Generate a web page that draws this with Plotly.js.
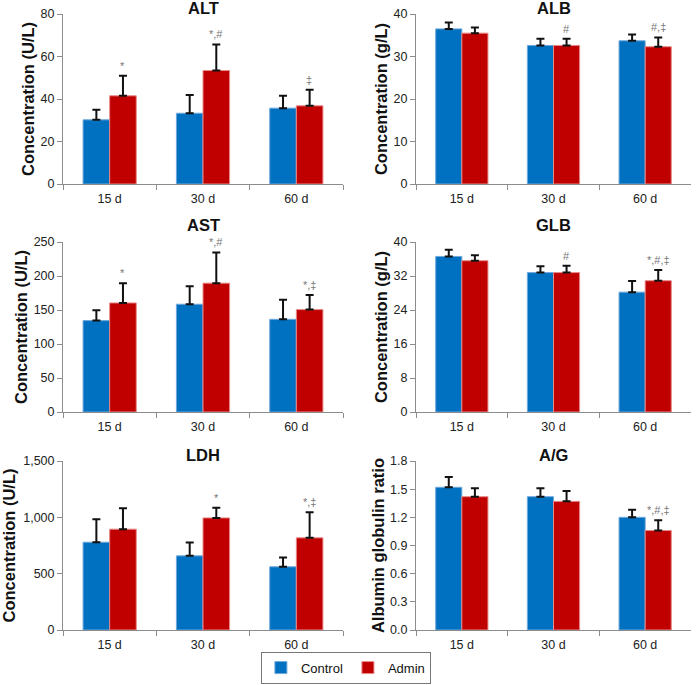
<!DOCTYPE html>
<html>
<head>
<meta charset="utf-8">
<script src="https://cdn.plot.ly/plotly-3.0.1.min.js"></script>
<style>html,body{margin:0;padding:0;background:#fff;}#chart{width:696px;height:685px;}</style>
</head>
<body>
<div id="chart"></div>
<script>
// ---- data ----
const categories = ['15 d', '30 d', '60 d'];
const seriesNames = ['Control', 'Admin'];

const altControl = [30.2, 33.3, 35.7];
const altControlSD = [4.7, 8.6, 5.8];
const altAdmin = [41.5, 53.4, 36.8];
const altAdminSD = [9.4, 12.3, 7.5];
const altSig = ['*', '*,#', '‡'];

const albControl = [36.5, 32.6, 33.7];
const albControlSD = [1.5, 1.6, 1.5];
const albAdmin = [35.5, 32.6, 32.3];
const albAdminSD = [1.3, 1.6, 2.2];
const albSig = ['', '#', '#,‡'];

const astControl = [134.4, 158.5, 136.3];
const astControlSD = [15.2, 26.5, 28.6];
const astAdmin = [160.4, 189.5, 150.6];
const astAdminSD = [29.1, 45.2, 21.6];
const astSig = ['*', '*,#', '*,‡'];

const glbControl = [36.6, 32.8, 28.2];
const glbControlSD = [1.6, 1.5, 2.6];
const glbAdmin = [35.6, 32.8, 30.9];
const glbAdminSD = [1.3, 1.6, 2.5];
const glbSig = ['', '#', '*,#,‡'];

const ldhControl = [779, 658, 561];
const ldhControlSD = [204, 119, 83];
const ldhAdmin = [895, 995, 818];
const ldhAdminSD = [186, 89, 227];
const ldhSig = ['', '*', '*,‡'];

const agControl = [1.52, 1.42, 1.20];
const agControlSD = [0.11, 0.09, 0.08];
const agAdmin = [1.42, 1.37, 1.06];
const agAdminSD = [0.09, 0.11, 0.11];
const agSig = ['', '', '*,#,‡'];

const panelTitles = ['ALT', 'ALB', 'AST', 'GLB', 'LDH', 'A/G'];
const yTitles = ['Concentration (U/L)', 'Concentration (g/L)', 'Concentration (U/L)', 'Concentration (g/L)', 'Concentration (U/L)', 'Albumin globulin ratio'];
const yMax = [80, 40, 250, 40, 1500, 1.8];
const yStep = [20, 10, 50, 8, 500, 0.3];

// ---- layout geometry ----
const W = 696, H = 685;
const FONT = 'Arial, "Liberation Sans", sans-serif';
const colX = [[63, 343], [416, 691]];
const rowY = [[14, 184], [242, 412], [461, 630]];
const titleY = [8, 225, 455];
const yTitleStandoff = [1, 1, 1, 1, 3, 1];

const panels = [
  {c: altControl, cs: altControlSD, a: altAdmin, as: altAdminSD, sig: altSig},
  {c: albControl, cs: albControlSD, a: albAdmin, as: albAdminSD, sig: albSig},
  {c: astControl, cs: astControlSD, a: astAdmin, as: astAdminSD, sig: astSig},
  {c: glbControl, cs: glbControlSD, a: glbAdmin, as: glbAdminSD, sig: glbSig},
  {c: ldhControl, cs: ldhControlSD, a: ldhAdmin, as: ldhAdminSD, sig: ldhSig},
  {c: agControl, cs: agControlSD, a: agAdmin, as: agAdminSD, sig: agSig}
];

const colors = ['#0070C0', '#C00000'];
const lineColors = ['#6FA8DC', '#E88A8A'];

const traces = [];
const annotations = [];
const layout = {
  width: W, height: H,
  margin: {l: 0, r: 0, t: 0, b: 0},
  paper_bgcolor: '#fff', plot_bgcolor: '#fff',
  font: {family: FONT, size: 12, color: '#222'},
  barmode: 'group', bargap: 0.43, bargroupgap: 0,
  showlegend: true,
  legend: {orientation: 'h', x: 0.497, xanchor: 'center', y: 0.002, yanchor: 'bottom',
           bordercolor: '#777', borderwidth: 1, font: {size: 13, family: FONT, color: '#111'},
           itemwidth: 30, tracegroupgap: 0},
  annotations: annotations
};

panels.forEach((p, i) => {
  const row = Math.floor(i / 2), col = i % 2;
  const xa = 'x' + (i === 0 ? '' : i + 1);
  const ya = 'y' + (i === 0 ? '' : i + 1);
  const xKey = 'xaxis' + (i === 0 ? '' : i + 1);
  const yKey = 'yaxis' + (i === 0 ? '' : i + 1);
  const means = [p.c, p.a], sds = [p.cs, p.as];
  for (let s = 0; s < 2; s++) {
    traces.push({
      type: 'bar', x: categories, y: means[s], name: seriesNames[s],
      xaxis: xa, yaxis: ya, showlegend: i === 0, legendgroup: seriesNames[s],
      marker: {color: colors[s], line: {color: lineColors[s], width: 1}},
      error_y: {type: 'data', symmetric: false, array: sds[s], arrayminus: sds[s].map(() => 0),
                color: '#111', thickness: 2, width: 4},
      hoverinfo: 'skip'
    });
  }
  layout[xKey] = {
    domain: [colX[col][0] / W, colX[col][1] / W], anchor: ya,
    type: 'category', showline: true, linecolor: '#8c8c8c', linewidth: 1,
    ticks: 'outside', tickson: 'boundaries', ticklen: 5, tickcolor: '#8c8c8c',
    ticklabelstandoff: 3,
    showgrid: false, zeroline: false, tickfont: {size: 12.5, family: FONT, color: '#222'},
    fixedrange: true
  };
  layout[yKey] = {
    domain: [1 - rowY[row][1] / H, 1 - rowY[row][0] / H], anchor: xa,
    range: [0, yMax[i]], dtick: yStep[i], tick0: 0,
    tickformat: i === 5 ? '.1f' : ',d',
    showline: true, linecolor: '#8c8c8c', linewidth: 1,
    ticks: 'outside', ticklen: 5, tickcolor: '#8c8c8c',
    showgrid: false, zeroline: false, tickfont: {size: 12.5, family: FONT, color: '#222'},
    title: {text: yTitles[i], font: {size: 16.5, family: FONT, color: '#111', weight: 'bold'}, standoff: yTitleStandoff[i]},
    fixedrange: true
  };
  annotations.push({
    text: '<b>' + panelTitles[i] + '</b>', xref: 'paper', yref: 'paper',
    x: (colX[col][0] + colX[col][1]) / 2 / W, y: 1 - titleY[row] / H,
    xanchor: 'center', yanchor: 'middle', showarrow: false,
    font: {size: 16.5, family: FONT, color: '#111'}
  });
  p.sig.forEach((t, k) => {
    if (!t) return;
    annotations.push({
      text: t, xref: xa, yref: ya, x: categories[k], y: p.a[k] + p.as[k],
      xshift: 13, yshift: 2, xanchor: 'center', yanchor: 'bottom', showarrow: false,
      font: {size: 11, family: FONT, color: '#777'}
    });
  });
});

Plotly.newPlot('chart', traces, layout, {staticPlot: true});
</script>
</body>
</html>
